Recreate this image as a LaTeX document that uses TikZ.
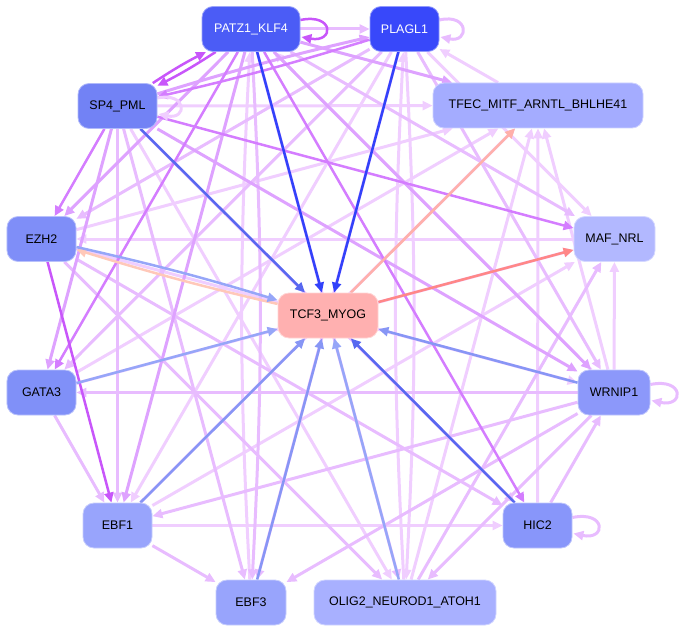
\documentclass[tikz,border=0pt]{standalone}
\usepackage{fontspec}
\setmainfont{Liberation Sans}
\usetikzlibrary{arrows.meta,backgrounds}
\definecolor{cP}{RGB}{75,92,246}
\definecolor{cL}{RGB}{56,72,250}
\definecolor{cS}{RGB}{114,130,245}
\definecolor{cT}{RGB}{164,172,255}
\definecolor{cE}{RGB}{127,142,248}
\definecolor{cM}{RGB}{178,184,255}
\definecolor{cC}{RGB}{255,176,176}
\definecolor{cG}{RGB}{128,144,248}
\definecolor{cW}{RGB}{140,152,250}
\definecolor{cB}{RGB}{152,164,252}
\definecolor{cH}{RGB}{136,150,250}
\definecolor{cO}{RGB}{168,176,255}
\definecolor{lavA}{RGB}{240,206,255}
\definecolor{lavB}{RGB}{232,188,255}
\definecolor{lavC}{RGB}{222,162,255}
\definecolor{vio}{RGB}{212,125,255}
\definecolor{vioS}{RGB}{200,86,250}
\definecolor{blueD}{RGB}{50,66,250}
\definecolor{blueM}{RGB}{88,104,240}
\definecolor{blueL}{RGB}{150,166,248}
\definecolor{blueK}{RGB}{135,150,245}
\definecolor{salm}{RGB}{255,135,135}
\definecolor{salmL}{RGB}{255,176,170}
\definecolor{peach}{RGB}{255,200,185}
\begin{document}
\begin{tikzpicture}[x=1bp,y=-1bp,
  box/.style={rounded corners=11bp, inner sep=0pt, line width=0.8bp,
    font=\fontsize{12.5}{14}\selectfont, text=black, minimum height=45bp},
  ed/.style={line width=3bp, -{Triangle[length=10bp,width=9bp]}},
  edt/.style={line width=2.5bp, -{Triangle[length=10bp,width=9bp]}}]
\useasboundingbox (0,0) rectangle (681,632);
\node[box, fill=cP, draw=cP!55!white, minimum width=98bp, text=white] (P) at (251,29) {PATZ1\_KLF4};
\node[box, fill=cL, draw=cL!55!white, minimum width=69bp, text=white] (L) at (404.5,29) {PLAGL1};
\node[box, fill=cS, draw=cS!55!white, minimum width=79bp] (S) at (117.5,106) {SP4\_PML};
\node[box, fill=cT, draw=cT!55!white, minimum width=210bp] (T) at (538,105.5) {TFEC\_MITF\_ARNTL\_BHLHE41};
\node[box, fill=cE, draw=cE!55!white, minimum width=69bp] (E) at (41.5,239) {EZH2};
\node[box, fill=cM, draw=cM!55!white, minimum width=81bp] (M) at (614.5,239) {MAF\_NRL};
\node[box, fill=cC, draw=cC!55!white, minimum width=100bp] (C) at (328,315.5) {TCF3\_MYOG};
\node[box, fill=cG, draw=cG!55!white, minimum width=69bp] (G) at (41.5,392.5) {GATA3};
\node[box, fill=cW, draw=cW!55!white, minimum width=72bp] (W) at (614,392.5) {WRNIP1};
\node[box, fill=cB, draw=cB!55!white, minimum width=69bp] (B1) at (117.5,525.5) {EBF1};
\node[box, fill=cH, draw=cH!55!white, minimum width=69bp] (H) at (537.5,525.5) {HIC2};
\node[box, fill=cB, draw=cB!55!white, minimum width=70bp] (B3) at (251,602.5) {EBF3};
\node[box, fill=cO, draw=cO!55!white, minimum width=182bp] (O) at (405,602.5) {OLIG2\_NEUROD1\_ATOH1};
\begin{scope}[on background layer]
% light lavender edges
\draw[ed,lavA] (T) -- (L);
\draw[ed,lavA] (S) -- (T);
\draw[ed,lavA] (S) -- (O);
\draw[ed,lavA] (L) -- (B1);
\draw[ed,lavA] (L) -- (M);
\draw[ed,lavA] (M) -- (E);
\draw[ed,lavA] (E) -- (W);
\draw[ed,lavA] (G) -- (T);
\draw[ed,lavA] (G) -- (M);
\draw[ed,lavA] (W) -- (M);
\draw[ed,lavA] (B1) -- (H);
\draw[ed,lavA] (B1) -- (T);
\draw[ed,lavA] (B1) -- (M);
\draw[ed,lavA] (O) -- (T);
\draw[ed,lavA] (H) -- (T);
\draw[ed,lavA] (W) -- (T);
\draw[ed,lavA] (W) -- (P);
\draw[ed,lavA] (L) to[bend left=3] (O);
\draw[ed,lavA] (O) to[bend left=3] (L);
\draw[ed,lavA] (B3) to[bend left=3] (P);
\draw[ed,lavA] (E) -- (T);
% medium lavender
\draw[ed,lavB] (P) -- (L);
\draw[ed,lavB] (S) -- (B1);
\draw[ed,lavB] (S) -- (B3);
\draw[ed,lavB] (S) -- (H);
\draw[ed,lavB] (P) to[bend left=3] (B3);
\draw[ed,lavB] (P) -- (O);
\draw[ed,lavB] (P) -- (M);
\draw[ed,lavB] (L) -- (E);
\draw[ed,lavB] (L) -- (G);
\draw[ed,lavB] (L) -- (B3);
\draw[ed,lavB] (L) -- (W);
\draw[ed,lavB] (E) -- (H);
\draw[ed,lavB] (E) -- (O);
\draw[ed,lavB] (G) -- (B1);
\draw[ed,lavB] (W) -- (G);
\draw[ed,lavB] (W) -- (B1);
\draw[ed,lavB] (W) -- (B3);
\draw[ed,lavB] (W) -- (O);
\draw[ed,lavB] (H) -- (W);
\draw[ed,lavB] (B1) -- (B3);
\draw[ed,lavB] (O) -- (M);
% stronger lavender / violet
\draw[ed,lavC] (P) -- (T);
\draw[ed,lavC] (S) -- (G);
\draw[ed,lavC] (S) -- (W);
\draw[ed,lavC] (P) -- (E);
\draw[ed,lavC] (P) -- (B1);
\draw[ed,lavC] (P) -- (W);
\draw[ed,lavC] (S) to[bend left=2] (L);
\draw[edt,vio] (L) to[bend left=2] (S);
\draw[edt,vio] (S) -- (E);
\draw[edt,vio] (S) -- (M);
\draw[edt,vio] (P) -- (G);
\draw[edt,vio] (P) -- (H);
\draw[edt,vioS] (P) to[bend left=3] (S);
\draw[edt,vioS] (S) to[bend left=3] (P);
\draw[edt,vioS] (E) -- (B1);
% self loops
\draw[ed,lavA] ([shift={(0,-8)}]S.east) .. controls ([shift={(30,-14)}]S.east) and ([shift={(30,14)}]S.east) .. ([shift={(1,8)}]S.east);
\draw[ed,lavB] ([shift={(0,-9)}]L.east) .. controls ([shift={(30,-16)}]L.east) and ([shift={(30,14)}]L.east) .. ([shift={(1,8)}]L.east);
\draw[ed,lavB] ([shift={(0,-8)}]W.east) .. controls ([shift={(34,-15)}]W.east) and ([shift={(34,15)}]W.east) .. ([shift={(1,8)}]W.east);
\draw[ed,lavB] ([shift={(0,-8)}]H.east) .. controls ([shift={(34,-15)}]H.east) and ([shift={(34,15)}]H.east) .. ([shift={(1,8)}]H.east);
\draw[edt,vioS] ([shift={(0,-9)}]P.east) .. controls ([shift={(34,-16)}]P.east) and ([shift={(34,14)}]P.east) .. ([shift={(1,8)}]P.east);
% edges with TCF3_MYOG
\draw[edt,peach] (C) to[bend left=2] (E);
\draw[edt,blueL] (E) to[bend left=2] (C);
\draw[edt,salmL] (C) -- (T);
\draw[edt,salm] (C) -- (M);
\draw[edt,blueL] (G) -- (C);
\draw[edt,blueK] (B1) -- (C);
\draw[edt,blueK] (B3) -- (C);
\draw[edt,blueL] (O) -- (C);
\draw[edt,blueK] (W) -- (C);
\draw[edt,blueM] (H) -- (C);
\draw[edt,blueM] (S) -- (C);
\draw[edt,blueD] (L) -- (C);
\draw[edt,blueD] (P) -- (C);
\end{scope}
\end{tikzpicture}
\end{document}
